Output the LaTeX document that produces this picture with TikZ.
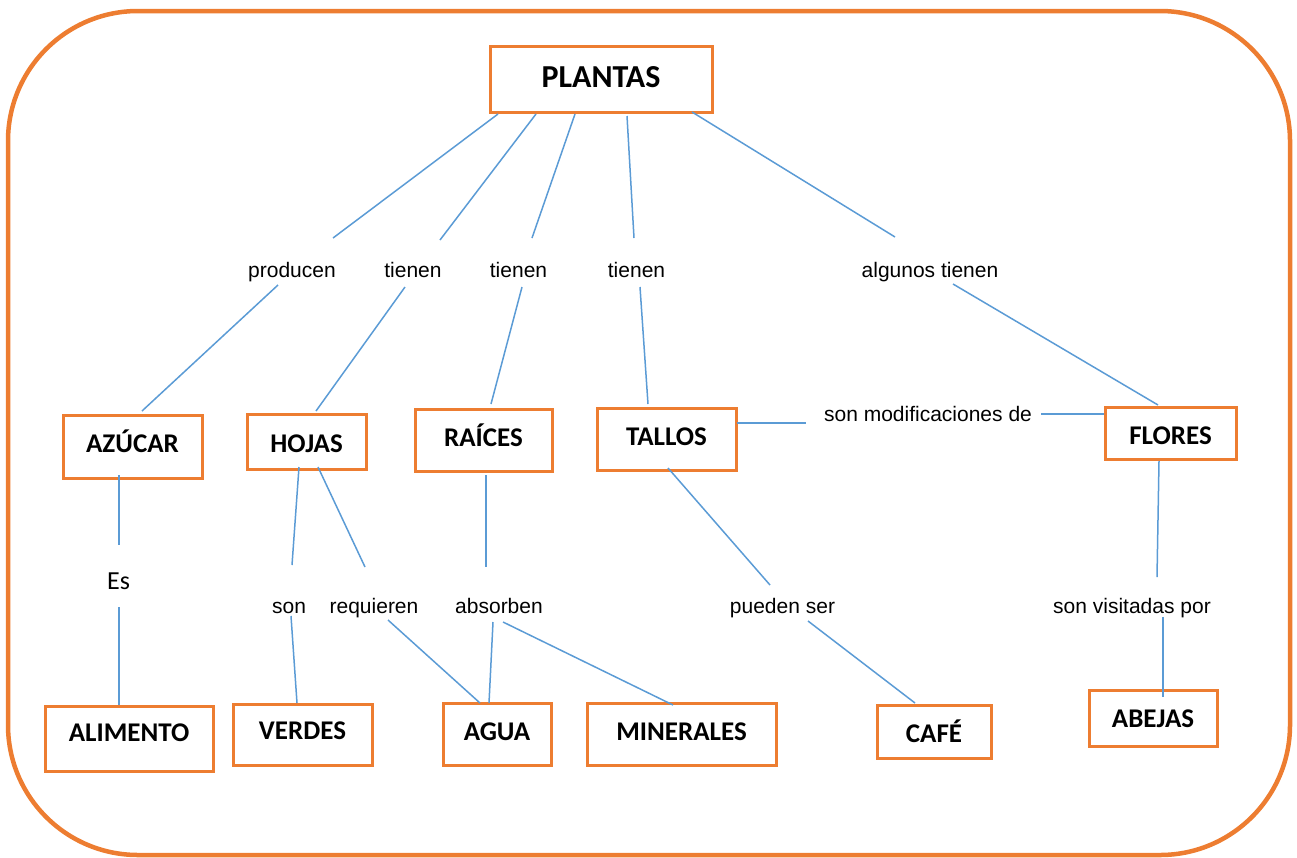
\documentclass[tikz,border=0pt]{standalone}
\usepackage{fontspec}
\setmainfont{Liberation Sans}
\newfontfamily\boxfont{Carlito}
\definecolor{orng}{HTML}{ED7D31}
\definecolor{blu}{HTML}{5B9BD5}
\newcommand\boxtxt[2]{\raisebox{#1pt}{#2}}
\begin{document}
\begin{tikzpicture}[x=1pt,y=-1pt,
  box/.style={draw=orng, line width=3pt, fill=white, inner sep=0pt,
    text height=17.1pt, text depth=0pt,
    font=\boxfont\bfseries\fontsize{27}{30}\selectfont},
  lbl/.style={inner sep=0pt, anchor=base, font=\fontsize{21}{24}\selectfont},
  conn/.style={draw=blu, line width=1.5pt}]
\useasboundingbox (0,0) rectangle (1297,857);
\draw[orng, line width=4.5pt, rounded corners=130pt] (8,11) rectangle (1290,855);

% boxes
\node[box, minimum width=222pt, minimum height=66pt, text height=20.2pt,
  font=\boxfont\bfseries\fontsize{32}{36}\selectfont] (plantas) at (601,79.5) {\boxtxt{2}{PLANTAS}};
\node[box, minimum width=139pt, minimum height=63pt] (azucar) at (132.5,446.5) {\boxtxt{2.7}{AZÚCAR}};
\node[box, minimum width=119pt, minimum height=55pt] (hojas) at (306.5,441.5) {\boxtxt{-2.3}{HOJAS}};
\node[box, minimum width=137pt, minimum height=62pt] (raices) at (483.5,440) {\boxtxt{1.7}{RAÍCES}};
\node[box, minimum width=139pt, minimum height=62pt] (tallos) at (666.5,439.5) {\boxtxt{3}{TALLOS}};
\node[box, minimum width=131pt, minimum height=52pt] (flores) at (1170.5,433) {\boxtxt{-2.5}{FLORES}};
\node[box, minimum width=168pt, minimum height=65pt] (alimento) at (129,738.5) {\boxtxt{5.5}{ALIMENTO}};
\node[box, minimum width=139pt, minimum height=61pt] (verdes) at (302.5,734.5) {\boxtxt{3.2}{VERDES}};
\node[box, minimum width=108pt, minimum height=62pt] (agua) at (497,734) {\boxtxt{2.5}{AGUA}};
\node[box, minimum width=189pt, minimum height=62pt] (minerales) at (681.5,734.5) {\boxtxt{3}{MINERALES}};
\node[box, minimum width=114pt, minimum height=53pt] (cafe) at (934,731.5) {\boxtxt{-2}{CAFÉ}};
\node[box, minimum width=128pt, minimum height=56pt] (abejas) at (1153,718) {\boxtxt{-1}{ABEJAS}};

% labels
\node[lbl] (producen) at (292,277) {producen};
\node[lbl] (tienenA) at (413,277) {tienen};
\node[lbl] (tienenB) at (518.5,277) {tienen};
\node[lbl] (tienenC) at (636.5,277) {tienen};
\node[lbl] (algunos) at (930,277) {algunos tienen};
\node[lbl] (modif) at (928,421) {son modificaciones de};
\node[lbl, font=\boxfont\fontsize{26}{30}\selectfont] (es) at (118.5,589) {Es};
\node[lbl] (son) at (289,613) {son};
\node[lbl] (requieren) at (374,613) {requieren};
\node[lbl] (absorben) at (499,613) {absorben};
\node[lbl] (pueden) at (782.5,613) {pueden ser};
\node[lbl] (visitadas) at (1132,613) {son visitadas por};

% connectors
\draw[conn] ([shift={(-103,34.5)}]plantas.center) -- ([shift={(41,-39)}]producen.base);
\draw[conn] ([shift={(-14,8)}]producen.base) -- ([shift={(9.5,-35.5)}]azucar.center);
\draw[conn] ([shift={(-65,34.5)}]plantas.center) -- ([shift={(27,-37)}]tienenA.base);
\draw[conn] ([shift={(-8,10)}]tienenA.base) -- ([shift={(9.5,-30.5)}]hojas.center);
\draw[conn] ([shift={(-26,34.5)}]plantas.center) -- ([shift={(13.5,-39)}]tienenB.base);
\draw[conn] ([shift={(3.5,10)}]tienenB.base) -- ([shift={(7.5,-36)}]raices.center);
\draw[conn] ([shift={(26,36.5)}]plantas.center) -- ([shift={(-2.5,-39)}]tienenC.base);
\draw[conn] ([shift={(3.5,10)}]tienenC.base) -- ([shift={(-18.5,-35.5)}]tallos.center);
\draw[conn] ([shift={(91,32.5)}]plantas.center) -- ([shift={(-35,-40)}]algunos.base);
\draw[conn] ([shift={(23,7)}]algunos.base) -- ([shift={(-12.5,-28)}]flores.center);
\draw[conn] ([shift={(70.5,-16.5)}]tallos.center) -- ([shift={(-122,2)}]modif.base);
\draw[conn] ([shift={(113,-7)}]modif.base) -- ([shift={(-66.5,-19)}]flores.center);
\draw[conn] ([shift={(-13.5,28.5)}]azucar.center) -- ([shift={(0.5,-44)}]es.base);
\draw[conn] ([shift={(0.5,18)}]es.base) -- ([shift={(-10,-33.5)}]alimento.center);
\draw[conn] ([shift={(-7.5,25.5)}]hojas.center) -- ([shift={(3,-48)}]son.base);
\draw[conn] ([shift={(2,3)}]son.base) -- ([shift={(-5.5,-31.5)}]verdes.center);
\draw[conn] ([shift={(11.5,25.5)}]hojas.center) -- ([shift={(-9,-46)}]requieren.base);
\draw[conn] ([shift={(14,7)}]requieren.base) -- ([shift={(-17,-31)}]agua.center);
\draw[conn] ([shift={(2.5,35)}]raices.center) -- ([shift={(-13,-46)}]absorben.base);
\draw[conn] ([shift={(-6,9)}]absorben.base) -- ([shift={(-8,-31)}]agua.center);
\draw[conn] ([shift={(4,9)}]absorben.base) -- ([shift={(-8.5,-29.5)}]minerales.center);
\draw[conn] ([shift={(1.5,28.5)}]tallos.center) -- ([shift={(-12.5,-28)}]pueden.base);
\draw[conn] ([shift={(25.5,8)}]pueden.base) -- ([shift={(-19,-28.5)}]cafe.center);
\draw[conn] ([shift={(-11.5,28)}]flores.center) -- ([shift={(25,-36)}]visitadas.base);
\draw[conn] ([shift={(31,4)}]visitadas.base) -- ([shift={(10,-21)}]abejas.center);
\end{tikzpicture}
\end{document}
